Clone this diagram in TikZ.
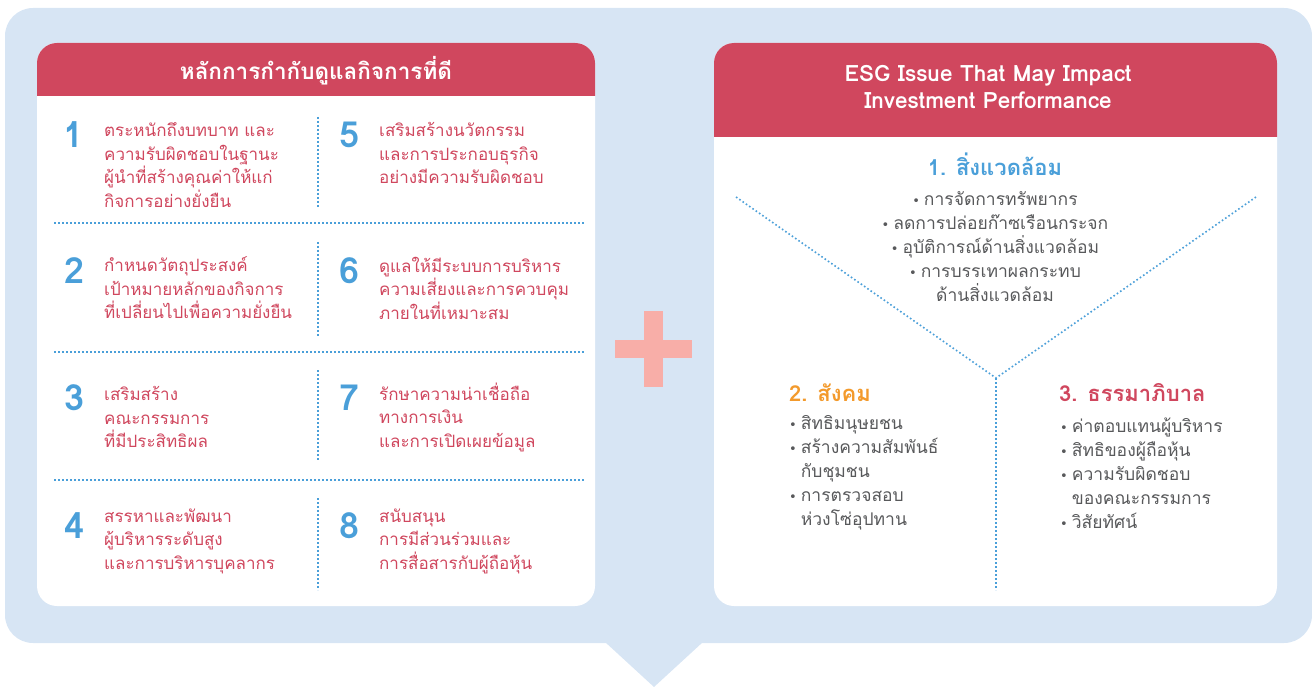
\documentclass[tikz,border=0pt]{standalone}
\usepackage{fontspec}
\setmainfont{Loma}
\newfontfamily\thaifont[Script=Thai]{Loma}
\newfontfamily\symfont{DejaVu Sans}
\newcommand{\itembul}{{\symfont\fontsize{13}{13}\selectfont •}\hspace{4pt}}
\newcommand{\itemgap}{\hphantom{\itembul}}
\definecolor{bgblue}{HTML}{D7E5F4}
\definecolor{govred}{HTML}{D0475E}
\definecolor{numblue}{HTML}{4A9FD9}
\definecolor{socorange}{HTML}{F39A2C}
\definecolor{txtgray}{HTML}{58595B}
\definecolor{plussalmon}{HTML}{F8AEA8}
\begin{document}
\begin{tikzpicture}
    [
    x=1pt,y=-1pt,
    header/.style={text=white,align=center,inner sep=0pt,font=\thaifont\bfseries\fontsize{22.5}{27}\selectfont},
    number/.style={text=numblue,inner sep=0pt,font=\bfseries\fontsize{36}{36}\selectfont},
    principle/.style={anchor=west,align=left,inner sep=0pt,text=govred,font=\thaifont\fontsize{17}{23.5}\selectfont},
    topic/.style={anchor=west,inner sep=0pt,font=\thaifont\bfseries\fontsize{22}{24}\selectfont},
    issue/.style={align=left,inner sep=0pt,text=txtgray,font=\thaifont\fontsize{17.5}{24}\selectfont},
    divider/.style={numblue,line width=1.6pt,dash pattern=on 1.6pt off 2.4pt}
    ]
    \useasboundingbox (0,0) rectangle (1312,687);
    % background with arrow
    \fill [bgblue,rounded corners=28] (5,8) rectangle (1312,643);
    \fill [bgblue] (605,642) -- (703,642) -- (654,687) -- cycle;
    % left card
    \fill [white,rounded corners=20] (37,43) rectangle (595,606);
    \fill [govred] (37,96) [rounded corners=20] -- (37,43) -- (595,43) [sharp corners] -- (595,96) -- cycle;
    \node (govtitle) at (316,71) [header] {หลักการกำกับดูแลกิจการที่ดี};
    \foreach \y in {223,352,480}
      \draw [divider] (54,\y) -- (584,\y);
    \foreach \a/\b in {117/208,242/336,370/460,498/590}
      \draw [divider] (318,\a) -- (318,\b);
    \node (n1) at (74,135) [number] {1};
    \node (p1) at (104,165) [principle] {ตระหนักถึงบทบาท และ\\ความรับผิดชอบในฐานะ\\ผู้นำที่สร้างคุณค่าให้แก่\\กิจการอย่างยั่งยืน};
    \node (n2) at (75,271) [number] {2};
    \node (p2) at (104,288) [principle] {กำหนดวัตถุประสงค์\\เป้าหมายหลักของกิจการ\\ที่เปลี่ยนไปเพื่อความยั่งยืน};
    \node (n3) at (75,398) [number] {3};
    \node (p3) at (104,417) [principle] {เสริมสร้าง\\คณะกรรมการ\\ที่มีประสิทธิผล};
    \node (n4) at (75,526) [number] {4};
    \node (p4) at (104,541) [principle] {สรรหาและพัฒนา\\ผู้บริหารระดับสูง\\และการบริหารบุคลากร};
    \node (n5) at (350,135) [number] {5};
    \node (p5) at (379,153) [principle] {เสริมสร้างนวัตกรรม\\และการประกอบธุรกิจ\\อย่างมีความรับผิดชอบ};
    \node (n6) at (350,271) [number] {6};
    \node (p6) at (379,288) [principle] {ดูแลให้มีระบบการบริหาร\\ความเสี่ยงและการควบคุม\\ภายในที่เหมาะสม};
    \node (n7) at (350,398) [number] {7};
    \node (p7) at (379,417) [principle] {รักษาความน่าเชื่อถือ\\ทางการเงิน\\และการเปิดเผยข้อมูล};
    \node (n8) at (350,526) [number] {8};
    \node (p8) at (379,541) [principle] {สนับสนุน\\การมีส่วนร่วมและ\\การสื่อสารกับผู้ถือหุ้น};
    % plus sign
    \fill [plussalmon] (644,311) rectangle (663,387);
    \fill [plussalmon] (615,340) rectangle (692,358);
    % right card
    \fill [white,rounded corners=20] (714,43) rectangle (1277,606);
    \fill [govred] (714,137) [rounded corners=20] -- (714,43) -- (1277,43) [sharp corners] -- (1277,137) -- cycle;
    \node (esgtitle) at (988,87) [header] {ESG Issue That May Impact\\Investment Performance};
    \coordinate (vl) at (736,197);
    \coordinate (vr) at (1256,197);
    \coordinate (vm) at (996,378);
    \coordinate (vb) at (996,590);
    \draw [divider] (vl) -- (vm) -- (vr);
    \draw [divider] (vm) -- (vb);
    \node (envtitle) at (995,164) [topic,anchor=center,text=numblue] {1. สิ่งแวดล้อม};
    \node (envlist) at (995,247) [issue,align=center] {\itembul การจัดการทรัพยากร\\\itembul ลดการปล่อยก๊าซเรือนกระจก\\\itembul อุบัติการณ์ด้านสิ่งแวดล้อม\\\itembul การบรรเทาผลกระทบ\\ด้านสิ่งแวดล้อม};
    \node (soctitle) at (789,393) [topic,text=socorange] {2. สังคม};
    \node (soclist) at (789,473) [issue,anchor=west] {\itembul สิทธิมนุษยชน\\\itembul สร้างความสัมพันธ์\\\itemgap กับชุมชน\\\itembul การตรวจสอบ\\\itemgap ห่วงโซ่อุปทาน};
    \node (govtopic) at (1059,393) [topic,text=govred] {3. ธรรมาภิบาล};
    \node (govlist) at (1060,473) [issue,anchor=west] {\itembul ค่าตอบแทนผู้บริหาร\\\itembul สิทธิของผู้ถือหุ้น\\\itembul ความรับผิดชอบ\\\itemgap ของคณะกรรมการ\\\itembul วิสัยทัศน์};
\end{tikzpicture}
\end{document}
